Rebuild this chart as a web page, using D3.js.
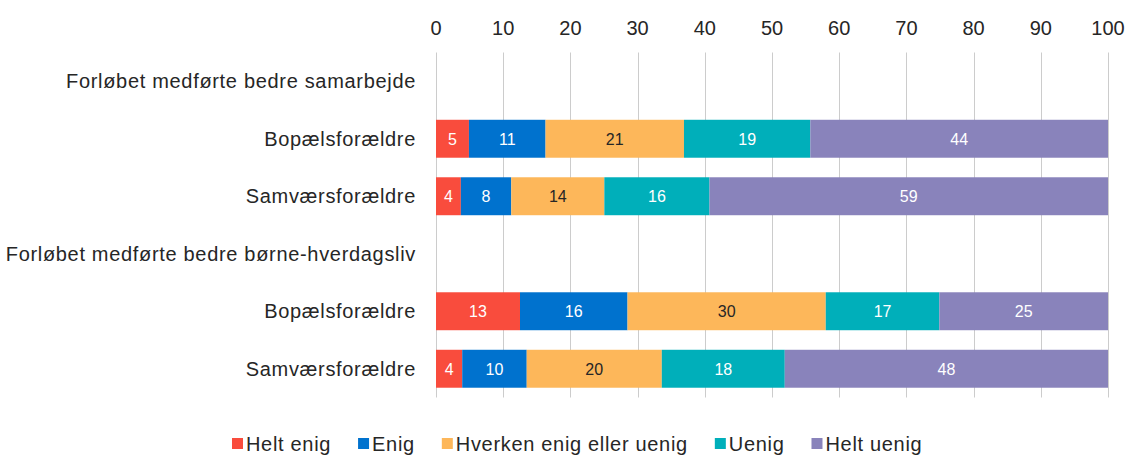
<!DOCTYPE html>
<html lang="da">
<head>
  <meta charset="UTF-8">
  <title>Forløbet medførte</title>
  <style>
    body { margin: 0; background: #fff; }
    svg { display: block; }
    text { font-family: "Liberation Sans", Arial, sans-serif; fill: #262626; }
    .wide { letter-spacing: 0.68px; }
  </style>
</head>
<body>
  <svg width="1130" height="455"></svg>
  <script src="https://d3js.org/d3.v7.min.js"></script>
  <script>
    // rækker (grupperubrikker har ingen søjle)
    const rowLabels = [
      "Forløbet medførte bedre samarbejde",
      "Bopælsforældre",
      "Samværsforældre",
      "Forløbet medførte bedre børne-hverdagsliv",
      "Bopælsforældre",
      "Samværsforældre"
    ];
    const seriesNames = ["Helt enig", "Enig", "Hverken enig eller uenig", "Uenig", "Helt uenig"];
    const seriesColors = ["#F94C3D", "#0072CE", "#FDB75A", "#00AFBA", "#8983BB"];

    // procent
    const heltEnig  = [null, 4.9,  3.7,   null, 12.5, 3.9];
    const enig      = [null, 11.4, 7.5,   null, 16.0, 9.6];
    const hverken   = [null, 20.6, 13.85, null, 29.5, 20.1];
    const uenig     = [null, 18.8, 15.65, null, 16.9, 18.3];
    const heltUenig = [null, 44.3, 59.3,  null, 25.1, 48.1];

    const xTicks = [0, 10, 20, 30, 40, 50, 60, 70, 80, 90, 100];

    const allSeries = [heltEnig, enig, hverken, uenig, heltUenig];
    const rows = rowLabels.map((label, i) => {
      const r = { key: i, label: label };
      seriesNames.forEach((s, j) => { r[s] = allSeries[j][i] || 0; });
      r.hasBar = allSeries[0][i] != null;
      return r;
    });

    const svg = d3.select("svg");

    const x = d3.scaleLinear().domain([0, 100]).range([436, 1108]);
    const y = d3.scaleBand()
      .domain(rows.map(d => d.key))
      .range([52.5, 397.5])
      .paddingInner(0.34)
      .paddingOuter(0.17);

    // lodrette gitterlinjer
    svg.append("g")
      .selectAll("line")
      .data(xTicks)
      .join("line")
      .attr("x1", d => Math.round(x(d)) + 0.5)
      .attr("x2", d => Math.round(x(d)) + 0.5)
      .attr("y1", 52.5)
      .attr("y2", 397.5)
      .attr("stroke", "#CCCCCC")
      .attr("stroke-width", 1);

    // akse øverst
    svg.append("g")
      .selectAll("text")
      .data(xTicks)
      .join("text")
      .attr("x", d => x(d))
      .attr("y", 35)
      .attr("text-anchor", "middle")
      .style("font-size", "20px")
      .text(d => d);

    // rækkeetiketter
    svg.append("g")
      .selectAll("text")
      .data(rows)
      .join("text")
      .attr("class", "wide")
      .attr("x", 416)
      .attr("y", d => y(d.key) + y.bandwidth() / 2)
      .attr("dy", "0.35em")
      .attr("text-anchor", "end")
      .style("font-size", "20px")
      .text(d => d.label);

    const stacked = d3.stack().keys(seriesNames)(rows.filter(d => d.hasBar));

    const layer = svg.append("g")
      .selectAll("g")
      .data(stacked)
      .join("g")
      .attr("fill", (d, i) => seriesColors[i]);

    layer.selectAll("rect")
      .data(d => d)
      .join("rect")
      .attr("x", d => x(d[0]))
      .attr("y", d => y(d.data.key))
      .attr("width", d => x(d[1]) - x(d[0]))
      .attr("height", y.bandwidth());

    // værdietiketter
    svg.append("g")
      .selectAll("g")
      .data(stacked)
      .join("g")
      .each(function(s, i) {
        d3.select(this).selectAll("text")
          .data(s)
          .join("text")
          .attr("x", d => (x(d[0]) + x(d[1])) / 2)
          .attr("y", d => y(d.data.key) + y.bandwidth() / 2)
          .attr("dy", "0.36em")
          .attr("text-anchor", "middle")
          .style("font-size", "16px")
          .style("fill", i === 2 ? "#262626" : "#ffffff")
          .text(d => Math.round(d.data[s.key]));
      });

    // forklaring
    const legend = svg.append("g").attr("transform", "translate(232,0)");
    let lx = 0;
    seriesNames.forEach((name, i) => {
      const g = legend.append("g").attr("transform", `translate(${lx},0)`);
      g.append("rect")
        .attr("x", 0)
        .attr("y", 438)
        .attr("width", 11)
        .attr("height", 11)
        .attr("fill", seriesColors[i]);
      const t = g.append("text")
        .attr("class", "wide")
        .attr("x", 14)
        .attr("y", 451)
        .style("font-size", "20px")
        .text(name);
      lx += 14 + t.node().getComputedTextLength() + 27;
    });
  </script>
</body>
</html>
